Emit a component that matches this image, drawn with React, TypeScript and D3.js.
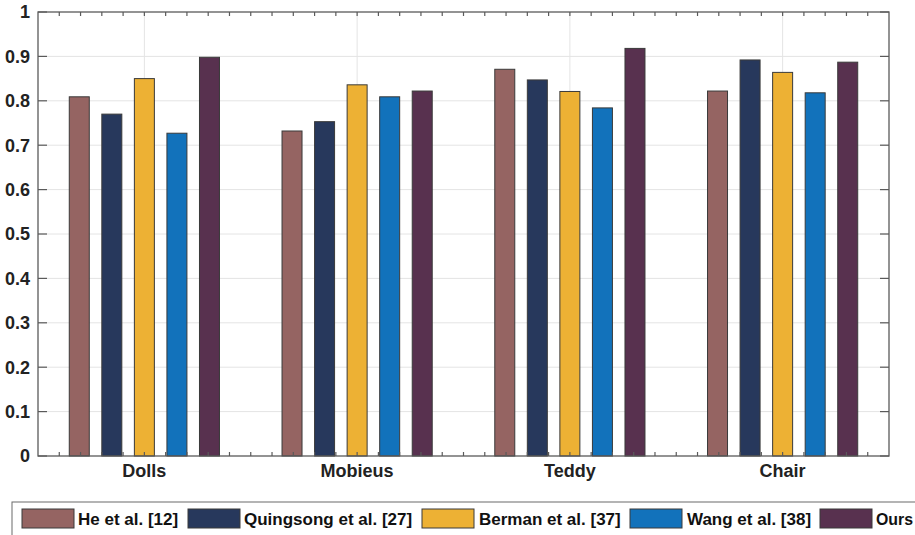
import React from "react";
import * as d3 from "d3";

const categories = ["Dolls", "Mobieus", "Teddy", "Chair"];
const seriesNames = ["He et al. [12]", "Quingsong et al. [27]", "Berman et al. [37]", "Wang et al. [38]", "Ours"];
const seriesColors = ["#956462", "#27385c", "#edb134", "#1272bb", "#58314f"];
const heValues = [0.809, 0.732, 0.871, 0.822];
const quingsongValues = [0.770, 0.753, 0.847, 0.892];
const bermanValues = [0.850, 0.836, 0.821, 0.864];
const wangValues = [0.727, 0.809, 0.784, 0.818];
const oursValues = [0.898, 0.822, 0.918, 0.887];
const yTicks = [0, 0.1, 0.2, 0.3, 0.4, 0.5, 0.6, 0.7, 0.8, 0.9, 1];
const yTickLabels = ["0", "0.1", "0.2", "0.3", "0.4", "0.5", "0.6", "0.7", "0.8", "0.9", "1"];

const seriesValues = [heValues, quingsongValues, bermanValues, wangValues, oursValues];

export default function App() {
  const W = 915, H = 535;
  const left = 38, right = 889, top = 12, bottom = 456;
  const x = d3.scaleLinear().domain([0.5, 4.5]).range([left, right]);
  const y = d3.scaleLinear().domain([0, 1]).range([bottom, top]);
  const offset = d3.scalePoint<number>().domain(d3.range(5)).range([-0.306, 0.306]);
  const barW = 0.094;
  const minorTicks = d3.range(1, 40).map((k) => 0.5 + k * 0.1);
  const axisColor = "#5a5a5a";
  const font = "'Liberation Sans', Arial, Helvetica, sans-serif";

  // legend layout
  const legendItems = [
    { sx: 22, tx: 78 },
    { sx: 188, tx: 244 },
    { sx: 422, tx: 479 },
    { sx: 630, tx: 687 },
    { sx: 820, tx: 876 },
  ];

  return (
    <svg width={W} height={H} style={{ position: "absolute", left: 0, top: 0, background: "#fff" }} fontFamily={font}>
      <rect x={0} y={0} width={W} height={H} fill="#fff" />
      {/* grid */}
      {yTicks.slice(1, -1).map((t) => (
        <line key={"gy" + t} x1={left} x2={right} y1={y(t)} y2={y(t)} stroke="#e4e4e4" strokeWidth={1} />
      ))}
      {categories.map((c, i) => (
        <line key={"gx" + c} x1={x(i + 1)} x2={x(i + 1)} y1={top} y2={bottom} stroke="#e4e4e4" strokeWidth={1} />
      ))}
      {/* bars */}
      {seriesValues.map((vals, s) =>
        vals.map((v, i) => {
          const cx = i + 1 + (offset(s) as number);
          const x0 = x(cx - barW / 2);
          const x1 = x(cx + barW / 2);
          return (
            <rect
              key={s + "-" + i}
              x={x0}
              y={y(v)}
              width={x1 - x0}
              height={y(0) - y(v)}
              fill={seriesColors[s]}
              stroke="#3a3a3a"
              strokeWidth={1}
            />
          );
        })
      )}
      {/* axes box */}
      <rect x={left} y={top} width={right - left} height={bottom - top} fill="none" stroke={axisColor} strokeWidth={1.3} />
      {/* y ticks */}
      {yTicks.map((t, i) => (
        <g key={"yt" + t}>
          <line x1={left} x2={left + 9} y1={y(t)} y2={y(t)} stroke={axisColor} strokeWidth={1.2} />
          <line x1={right} x2={right - 9} y1={y(t)} y2={y(t)} stroke={axisColor} strokeWidth={1.2} />
          <text x={30} y={y(t)} dy="0.36em" textAnchor="end" fontSize={18} fontWeight="bold" fill="#222">
            {yTickLabels[i]}
          </text>
        </g>
      ))}
      {/* x minor ticks */}
      {minorTicks.map((t) => (
        <g key={"xt" + t}>
          <line x1={x(t)} x2={x(t)} y1={bottom} y2={bottom - 4} stroke={axisColor} strokeWidth={1.2} />
          <line x1={x(t)} x2={x(t)} y1={top} y2={top + 4} stroke={axisColor} strokeWidth={1.2} />
        </g>
      ))}
      {/* category labels */}
      {categories.map((c, i) => (
        <text key={"cl" + c} x={x(i + 1)} y={471} dy="0.36em" textAnchor="middle" fontSize={18} fontWeight="bold" fill="#222">
          {c}
        </text>
      ))}
      {/* legend */}
      <rect x={12} y={502} width={920} height={45} fill="#fff" stroke="#6a6a6a" strokeWidth={1} />
      {seriesNames.map((n, s) => (
        <g key={"lg" + n}>
          <rect x={legendItems[s].sx} y={509} width={52} height={19} fill={seriesColors[s]} stroke="#3a3a3a" strokeWidth={1} />
          <text
            x={legendItems[s].tx}
            y={518.5}
            dy="0.36em"
            fontSize={17}
            fontWeight="bold"
            fill="#111"
            {...(s === 4 ? { textLength: 37, lengthAdjust: "spacingAndGlyphs" } : {})}
          >
            {n}
          </text>
        </g>
      ))}
    </svg>
  );
}
